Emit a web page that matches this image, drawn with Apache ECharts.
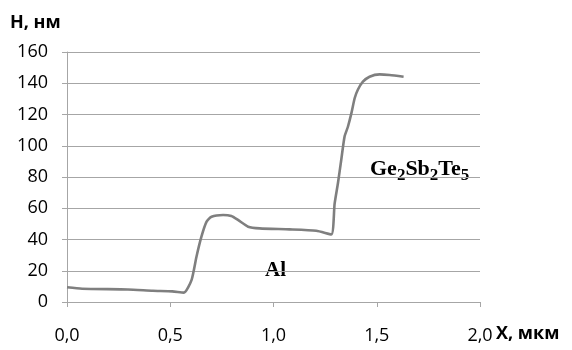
<!DOCTYPE html>
<html>
<head>
<meta charset="utf-8">
<script src="https://cdn.jsdelivr.net/npm/echarts@6/dist/echarts.min.js"></script>
<style>
  html, body { margin: 0; padding: 0; background: #fff; }
  #chart { width: 572px; height: 350px; }
</style>
</head>
<body>
<div id="chart"></div>
<script>
// Surface profile: position along the scan (µm) and step height (nm)
const xPositions = [0, 0.073, 0.295, 0.416, 0.51, 0.566, 0.603, 0.627, 0.651, 0.676, 0.70,
  0.756, 0.796, 0.828, 0.877, 0.933, 1.078, 1.207, 1.28, 1.296, 1.312, 1.328, 1.344, 1.36,
  1.377, 1.393, 1.409, 1.433, 1.465, 1.514, 1.562, 1.63];
const heights = [9.4, 8.5, 8.0, 7.2, 6.8, 6.0, 14, 29, 41.8, 51.4, 54.6,
  55.7, 55, 52.5, 48.2, 47.1, 46.5, 45.6, 43.3, 63, 76, 90.9, 105.8, 112,
  120.7, 130.4, 136, 141, 144.2, 145.7, 145.3, 144.2];

const xTicks = [0, 0.5, 1.0, 1.5, 2.0];
const yTicks = [0, 20, 40, 60, 80, 100, 120, 140, 160];

const xTitle = 'X, мкм';
const yTitle = 'H, нм';

const gridColor = '#a6a6a6';
const labelFont = '"Open Sans", "Liberation Sans", sans-serif';
const serifFont = '"Liberation Serif", "DejaVu Serif", serif';

const chart = echarts.init(document.getElementById('chart'));
chart.setOption({
  animation: false,
  backgroundColor: '#fff',
  grid: { left: 67, right: 92, top: 52, bottom: 48, containLabel: false },
  xAxis: {
    type: 'value',
    min: xTicks[0],
    max: xTicks[xTicks.length - 1],
    interval: xTicks[1] - xTicks[0],
    axisLine: { show: true, lineStyle: { color: gridColor, width: 1 } },
    axisTick: { show: true, length: 5, lineStyle: { color: gridColor } },
    splitLine: { show: false },
    axisLabel: {
      margin: 25,
      color: '#000',
      fontFamily: labelFont,
      fontSize: 18,
      formatter: v => v.toFixed(1).replace('.', ',')
    }
  },
  yAxis: {
    type: 'value',
    min: yTicks[0],
    max: yTicks[yTicks.length - 1],
    interval: yTicks[1] - yTicks[0],
    axisLine: { show: true, lineStyle: { color: gridColor, width: 1 } },
    axisTick: { show: true, length: 5, lineStyle: { color: gridColor } },
    splitLine: { show: true, lineStyle: { color: gridColor, width: 1 } },
    axisLabel: {
      margin: 19,
      color: '#000',
      fontFamily: labelFont,
      fontSize: 18
    }
  },
  series: [{
    type: 'line',
    data: xPositions.map((x, i) => [x, heights[i]]),
    showSymbol: false,
    smooth: 0.2,
    lineStyle: { color: '#7f7f7f', width: 2.6 }
  }],
  graphic: [
    {
      type: 'text', left: 10, top: 14,
      style: { text: yTitle, font: 'bold 18px ' + labelFont, fill: '#000' }
    },
    {
      type: 'text', left: 496, top: 325,
      style: { text: xTitle, font: 'bold 18px ' + labelFont, fill: '#000' }
    },
    {
      type: 'text', left: 265, top: 260,
      style: { text: 'Al', font: 'bold 21px ' + serifFont, fill: '#000' }
    },
    {
      type: 'text', left: 370, top: 158,
      style: {
        text: '{b|Ge}{s|2}{b|Sb}{s|2}{b|Te}{s|5}',
        rich: {
          b: { fontFamily: serifFont, fontWeight: 'bold', fontSize: 22, fill: '#000', verticalAlign: 'bottom' },
          s: { fontFamily: serifFont, fontWeight: 'bold', fontSize: 17, fill: '#000', verticalAlign: 'bottom', padding: [0, 0, -4, 0] }
        }
      }
    }
  ]
});
</script>
</body>
</html>
